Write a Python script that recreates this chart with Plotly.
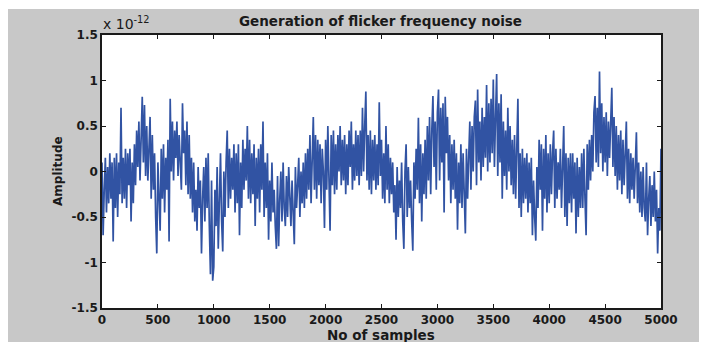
import plotly.graph_objects as go

# Amplitude, in hundredths of 1e-12, one value every 10 samples
amp_0000_0490 = [10, -70, -20, 15, -45, 5, -35, 20, -30, 10,
                 -77, 15, -40, 20, -50, 10, -25, 70, -35, 15,
                 -30, 25, -40, 20, -15, 25, -55, 10, -35, 30,
                 -15, 45, 5, 55, -10, 40, 82, 10, 73, -5,
                 50, -10, 35, 60, -30, 40, -20, 20, -50, -90]
amp_0500_0990 = [10, -40, -65, 25, -30, 30, -45, 15, -20, 35,
                 -77, 80, 0, 55, -10, 45, 15, 55, -5, 40,
                 10, -20, 75, 20, 45, -15, 55, -25, 40, -30,
                 15, -45, 10, -55, -20, -65, 5, -40, -10, -90,
                 -30, 5, -55, 15, -40, 20, -60, -113, -10, -120]
amp_1000_1490 = [-105, -20, -60, 5, -85, -30, 20, -55, -88, 0,
                 -50, 10, 45, -40, 25, -30, 15, -20, 30, -45,
                 20, -35, 30, -70, 10, -40, 35, -20, 25, -10,
                 50, -30, 35, -35, 20, -25, 30, -60, 15, -30,
                 25, -45, 30, -20, 55, -50, 10, -40, 20, -75]
amp_1500_1990 = [-10, -55, 10, -45, -20, -60, -85, -5, -82, -30,
                 0, -55, 10, -40, -60, -5, -50, 5, -35, -60,
                 -10, -45, -80, 5, -40, -15, 15, -50, 0, -35,
                 10, -40, 20, -30, 25, -20, 40, -35, 15, 60,
                 -20, 40, -30, 35, -15, 30, -35, 25, 0, -62]
amp_2000_2490 = [35, -20, 50, -30, -65, 40, -15, 45, -25, 30,
                 -20, 40, 0, 50, -15, 35, -10, 40, -25, 30,
                 -15, 45, 5, 55, -20, 30, -10, 45, -5, 40,
                 -15, 45, -5, 70, 0, 50, 88, -10, 40, -20,
                 45, -25, 35, -10, 40, -20, 30, -15, 76, -5]
amp_2500_2990 = [35, -30, 20, -35, 50, -20, 30, -35, 15, -25,
                 10, -45, -15, -75, 5, -50, -10, -40, 10, -55,
                 -85, 0, 30, -50, 5, -40, -10, -55, -87, 10,
                 -30, 25, -20, 59, -35, 30, -55, 20, -25, 35,
                 -30, 50, -10, 60, -25, 45, 83, 5, 55, -20]
amp_3000_3490 = [65, 90, -10, 70, 10, 75, -45, 82, 20, 60,
                 -10, 40, -35, 30, -20, 35, -30, 20, -64, 10,
                 -35, 30, -40, 20, -25, -68, 25, -30, 15, 55,
                 -20, 50, 0, 60, 78, -15, 90, 10, 55, -10,
                 70, 5, 60, 15, 95, 0, 75, 10, 80, 20]
amp_3500_3990 = [101, 5, 60, 107, -5, 75, 10, 85, -30, 55,
                 -5, 45, -20, 70, 0, 50, -15, 35, -25, 40,
                 -30, 30, 80, -40, 20, -50, 25, -35, 15, -30,
                 20, -45, 10, -35, 15, -70, -10, -50, -76, 5,
                 -40, 35, -20, 30, -65, 25, -30, 40, -45, 20]
amp_4000_4490 = [-35, 30, -25, 20, 45, -40, 25, -30, 10, -20,
                 25, -40, 10, 50, -50, 20, -60, 15, -35, 20,
                 -45, 20, -30, 10, -68, 15, -50, 5, -40, 20,
                 -40, 25, -30, -70, 30, -20, 35, -10, 40, 0,
                 65, 83, 10, 70, 5, 110, 20, 75, 0, 60]
amp_4500_4990 = [10, 65, -5, 55, 15, 60, 92, 5, 60, -5,
                 50, -20, 40, -10, 45, -25, 35, -15, 30, 55,
                 -30, 25, -35, 20, -20, 15, -30, 25, 43, -35,
                 10, -45, 0, -50, 5, -40, -55, 10, -70, -30,
                 -5, -60, -15, -50, 0, -55, -20, -90, -40, -65]
amp_5000 = [25]

amplitude = (amp_0000_0490 + amp_0500_0990 + amp_1000_1490 + amp_1500_1990 +
             amp_2000_2490 + amp_2500_2990 + amp_3000_3490 + amp_3500_3990 +
             amp_4000_4490 + amp_4500_4990 + amp_5000)
samples = list(range(0, 5001, 10))
y_vals = [v / 100.0 for v in amplitude]  # in units of 1e-12

x_ticks = [0, 500, 1000, 1500, 2000, 2500, 3000, 3500, 4000, 4500, 5000]
y_ticks = [-1.5, -1, -0.5, 0, 0.5, 1, 1.5]
y_ticktext = ["-1.5", "-1", "-0.5", "0", "0.5", "1", "1.5"]

W, H = 716, 342
L, R, T, B = 102, 661, 35, 308
GRAY = "#c8c8c8"
FONT = "DejaVu Sans"

fig = go.Figure()
fig.add_trace(go.Scatter(x=samples, y=y_vals, mode="lines",
                         line=dict(color="#3153a3", width=1.7), hoverinfo="skip"))

def px_x(p):
    return (p - L) / (R - L)

def px_y(p):
    return (B - p) / (B - T)

axis_common = dict(showline=True, linecolor="#1a1a1a", linewidth=1.5, mirror="allticks",
                   ticks="inside", ticklen=4, tickcolor="#1a1a1a", showgrid=False,
                   zeroline=False,
                   tickfont=dict(family=FONT, size=12, color="#1a1a1a", weight="bold"))

fig.update_xaxes(range=[0, 5000], tickvals=x_ticks, **axis_common)
fig.update_yaxes(range=[-1.5, 1.5], tickvals=y_ticks, ticktext=y_ticktext, **axis_common)

fig.update_layout(
    width=W, height=H,
    margin=dict(l=L, r=W - R, t=T, b=H - B, pad=0),
    paper_bgcolor=GRAY, plot_bgcolor="white",
    showlegend=False,
    annotations=[
        dict(text="<b>Generation of flicker frequency noise</b>", xref="paper", yref="paper",
             x=px_x(380), y=px_y(21), xanchor="center", yanchor="middle", showarrow=False,
             font=dict(family=FONT, size=13.5, color="#1a1a1a")),
        dict(text="x 10<sup>-12</sup>", xref="paper", yref="paper",
             x=px_x(101), y=px_y(34), xanchor="left", yanchor="bottom", showarrow=False,
             font=dict(family=FONT, size=14, color="#1a1a1a")),
        dict(text="<b>No of samples</b>", xref="paper", yref="paper",
             x=px_x(381), y=px_y(335), xanchor="center", yanchor="middle", showarrow=False,
             font=dict(family=FONT, size=13.5, color="#1a1a1a")),
        dict(text="<b>Amplitude</b>", xref="paper", yref="paper", textangle=-90,
             x=px_x(58), y=px_y(171), xanchor="center", yanchor="middle", showarrow=False,
             font=dict(family=FONT, size=12, color="#1a1a1a")),
    ],
    shapes=[
        dict(type="rect", xref="paper", yref="paper", x0=px_x(0), x1=px_x(8),
             y0=px_y(H), y1=px_y(0), fillcolor="white", line=dict(width=0), layer="above"),
        dict(type="rect", xref="paper", yref="paper", x0=px_x(0), x1=px_x(W),
             y0=px_y(9), y1=px_y(0), fillcolor="white", line=dict(width=0), layer="above"),
        dict(type="rect", xref="paper", yref="paper", x0=px_x(699), x1=px_x(W),
             y0=px_y(H), y1=px_y(0), fillcolor="white", line=dict(width=0), layer="above"),
    ],
)

fig.write_html("out.html")
